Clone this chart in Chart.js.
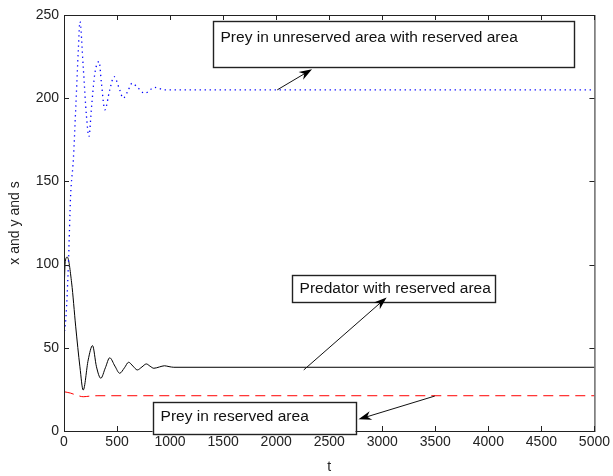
<!DOCTYPE html>
<html>
<head>
<meta charset="utf-8">
<script src="https://cdn.jsdelivr.net/npm/chart.js@4"></script>
<style>
  html, body { margin: 0; padding: 0; background: #fff; }
  canvas { display: block; }
</style>
</head>
<body>
<canvas id="chart" width="613" height="476"></canvas>
<script>
// ===== data =====
const preyFreeT = [0, 19, 41, 62, 88, 110, 135, 150, 181, 212, 235, 260, 291, 331, 353, 385, 431, 472, 525, 557, 600, 641, 700, 760, 854, 950, 1050, 5000]
const preyFreeV = [57, 69, 99, 141, 163, 193, 229, 246, 219, 189, 177, 195, 215, 222, 209, 193, 205, 213, 205, 200, 204, 209, 206, 203, 206.5, 205, 205, 205]

const predT = [0, 12, 31, 72, 110, 150, 181, 228, 269, 306, 347, 390, 431, 480, 525, 570, 609, 650, 691, 735, 776, 810, 847, 900, 947, 990, 1035, 5000]
const predV = [82, 102, 104.5, 89, 63, 38.6, 24.6, 42.7, 51.3, 38.6, 31.7, 38, 44, 39, 34.7, 38, 41.3, 39, 36.7, 38.5, 40.3, 39, 37.7, 38.5, 39.2, 38.7, 38.3, 38.3]

const preyResT = [0, 60, 120, 181, 250, 320, 5000]
const preyResV = [23.6, 22.8, 21.5, 20.6, 21.0, 21.2, 21.2]

const xTicks = [0, 500, 1000, 1500, 2000, 2500, 3000, 3500, 4000, 4500, 5000]
const yTicks = [0, 50, 100, 150, 200, 250]

// text boxes + arrows, in data units
const notes = [
  { text: 'Prey in unreserved area with reserved area', box: [1400, 246.4, 4801, 219], textY: 236.5, arrow: [2010, 205, 2338, 217.4] },
  { text: 'Predator with reserved area', box: [2145, 93.8, 4057, 77.7], textY: 85.7, arrow: [2260, 36.7, 3041, 80.3] },
  { text: 'Prey in reserved area', box: [835, 17.6, 2748, -1.4], textY: 8.8, arrow: [3495, 21, 2776, 7] }
]

const toPts = (ts, vs) => ts.map((t, i) => ({ x: t, y: vs[i] }))

const FONT = '"Liberation Sans", Arial, sans-serif'
const INK = '#222'

// MATLAB-ish frame: box round the axes, ticks pointing inward
const framePlugin = {
  id: 'frame',
  afterDatasetsDraw(chart) {
    const { ctx, chartArea: a, scales: { x, y } } = chart
    ctx.save()
    ctx.strokeStyle = INK
    ctx.lineWidth = 1
    ctx.strokeRect(a.left + 0.5, a.top + 0.5, a.right - a.left, a.bottom - a.top)
    ctx.beginPath()
    xTicks.forEach(v => {
      const px = Math.round(x.getPixelForValue(v)) + 0.5
      ctx.moveTo(px, a.bottom); ctx.lineTo(px, a.bottom - 5)
      ctx.moveTo(px, a.top); ctx.lineTo(px, a.top + 5)
    })
    yTicks.forEach(v => {
      const py = Math.round(y.getPixelForValue(v)) + 0.5
      ctx.moveTo(a.left, py); ctx.lineTo(a.left + 5, py)
      ctx.moveTo(a.right, py); ctx.lineTo(a.right - 5, py)
    })
    ctx.stroke()
    ctx.restore()
  },
  afterDraw(chart) {
    const { ctx, scales: { x, y } } = chart
    ctx.save()
    notes.forEach(n => {
      const x0 = x.getPixelForValue(n.box[0]), y0 = y.getPixelForValue(n.box[1])
      const x1 = x.getPixelForValue(n.box[2]), y1 = y.getPixelForValue(n.box[3])
      ctx.fillStyle = '#fff'
      ctx.fillRect(x0, y0, x1 - x0, y1 - y0)
      ctx.strokeStyle = INK
      ctx.lineWidth = 1.4
      ctx.strokeRect(Math.round(x0) + 0.5, Math.round(y0) + 0.5, Math.round(x1 - x0), Math.round(y1 - y0))
      ctx.fillStyle = '#111'
      ctx.font = '15.5px ' + FONT
      ctx.textBaseline = 'middle'
      ctx.fillText(n.text, x0 + 8, y.getPixelForValue(n.textY))

      // arrow with filled head at the box end
      const ax = x.getPixelForValue(n.arrow[0]), ay = y.getPixelForValue(n.arrow[1])
      const bx = x.getPixelForValue(n.arrow[2]), by = y.getPixelForValue(n.arrow[3])
      const ang = Math.atan2(by - ay, bx - ax)
      ctx.strokeStyle = '#111'
      ctx.lineWidth = 1
      ctx.beginPath()
      ctx.moveTo(ax, ay); ctx.lineTo(bx - 8 * Math.cos(ang), by - 8 * Math.sin(ang))
      ctx.stroke()
      ctx.fillStyle = '#000'
      ctx.beginPath()
      ctx.moveTo(bx, by)
      ctx.lineTo(bx - 13 * Math.cos(ang) + 4.5 * Math.sin(ang), by - 13 * Math.sin(ang) - 4.5 * Math.cos(ang))
      ctx.lineTo(bx - 9 * Math.cos(ang), by - 9 * Math.sin(ang))
      ctx.lineTo(bx - 13 * Math.cos(ang) - 4.5 * Math.sin(ang), by - 13 * Math.sin(ang) + 4.5 * Math.cos(ang))
      ctx.closePath()
      ctx.fill()
    })
    ctx.restore()
  }
}

const bgPlugin = {
  id: 'bg',
  beforeDraw(chart) {
    const { ctx, width, height } = chart
    ctx.save()
    ctx.fillStyle = '#fff'
    ctx.fillRect(0, 0, width, height)
    ctx.restore()
  }
}

new Chart(document.getElementById('chart').getContext('2d'), {
  type: 'line',
  data: {
    datasets: [
      { label: 'Prey in unreserved area', data: toPts(preyFreeT, preyFreeV), borderColor: '#0000ff', borderWidth: 1.3, borderDash: [1.3, 3.7], pointRadius: 0, cubicInterpolationMode: 'monotone' },
      { label: 'Predator', data: toPts(predT, predV), borderColor: '#000', borderWidth: 1, pointRadius: 0, cubicInterpolationMode: 'monotone' },
      { label: 'Prey in reserved area', data: toPts(preyResT, preyResV), borderColor: '#ff0000', borderWidth: 1, borderDash: [10, 6], pointRadius: 0, cubicInterpolationMode: 'monotone' }
    ]
  },
  options: {
    responsive: false,
    animation: false,
    layout: { padding: { left: 0, top: 15, right: 16, bottom: 0 } },
    plugins: { legend: { display: false }, tooltip: { enabled: false } },
    scales: {
      x: {
        type: 'linear', min: 0, max: 5000,
        afterBuildTicks: s => { s.ticks = xTicks.map(v => ({ value: v })) },
        afterFit: s => { s.height = 45 },
        grid: { display: false, drawTicks: false },
        border: { display: false },
        ticks: { color: INK, font: { family: FONT, size: 14 }, padding: 3, maxRotation: 0, autoSkip: false, callback: v => String(v) },
        title: { display: true, text: 't', color: INK, font: { family: FONT, size: 14 }, padding: { top: 2, bottom: 0 } }
      },
      y: {
        type: 'linear', min: 0, max: 250,
        afterBuildTicks: s => { s.ticks = yTicks.map(v => ({ value: v })) },
        afterFit: s => { s.width = 64 },
        grid: { display: false, drawTicks: false },
        border: { display: false },
        ticks: { color: INK, font: { family: FONT, size: 14 }, padding: 5, callback: v => String(v) },
        title: { display: true, text: 'x and y and s', color: INK, font: { family: FONT, size: 14 }, padding: { top: 7, bottom: 0 } }
      }
    }
  },
  plugins: [bgPlugin, framePlugin]
})
</script>
</body>
</html>
